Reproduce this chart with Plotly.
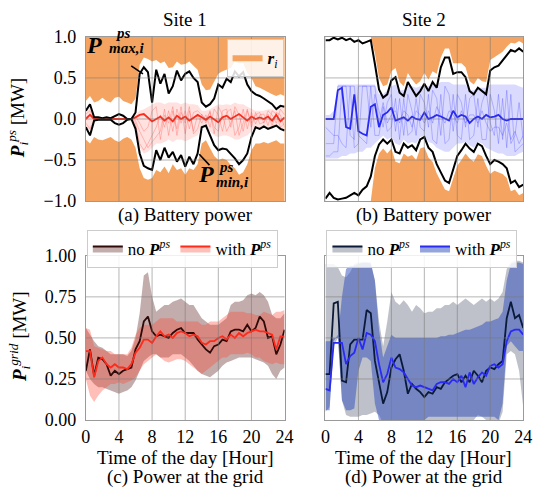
import plotly.graph_objects as go

# ---------------- data (half-hour resolution, 0..24 h) ----------------
HOURS = [i * 0.5 for i in range(49)]
X_TICKS = [0, 4, 8, 12, 16, 20, 24]
Y_TICKS_TOP = [-1.0, -0.5, 0.0, 0.5, 1.0]
Y_TICKS_BOT = [0.0, 0.25, 0.5, 0.75, 1.0]

# Site 1 battery power
S1_PMAX = [0.10,0.18,0.02,0.02,0.01,0.02, 0.01,0.04,0.06,0.04,0.00,0.00, 0.08,0.55,0.63,0.57,0.20,0.60,
           0.43,0.55,0.31,0.40,0.59,0.47, 0.55,0.58,0.50,0.45,0.20,0.15, 0.18,0.25,0.42,0.38,0.49,0.45,
           0.58,0.52,0.57,0.42,0.34,0.30, 0.28,0.25,0.21,0.18,0.12,0.16, 0.15]
S1_PMIN = [-0.10,-0.20,-0.02,-0.01,-0.01,-0.01, -0.01,-0.05,-0.07,-0.05,-0.01,0.00, -0.12,-0.42,-0.57,-0.60,-0.62,-0.38,
           -0.50,-0.35,-0.47,-0.40,-0.52,-0.44, -0.58,-0.46,-0.55,-0.42,-0.10,-0.08, -0.20,-0.32,-0.38,-0.36,-0.37,-0.42,
           -0.48,-0.55,-0.50,-0.42,-0.22,-0.10, -0.12,-0.09,-0.12,-0.10,-0.08,-0.12, -0.14]
S1_R_HI = [0.22,0.28,0.20,0.22,0.26,0.22, 0.20,0.26,0.27,0.22,0.20,0.18, 0.25,0.66,0.75,0.73,0.70,0.72,
           0.68,0.70,0.62,0.63,0.70,0.66, 0.67,0.70,0.65,0.60,0.42,0.35, 0.36,0.45,0.55,0.58,0.60,0.62,
           0.70,0.68,0.68,0.56,0.50,0.40, 0.38,0.35,0.33,0.30,0.28,0.30, 0.28]
S1_R_LO = [-0.25,-0.30,-0.22,-0.25,-0.26,-0.24, -0.22,-0.26,-0.28,-0.24,-0.22,-0.25, -0.35,-0.60,-0.72,-0.74,-0.72,-0.62,
           -0.65,-0.58,-0.66,-0.55,-0.62,-0.60, -0.68,-0.60,-0.62,-0.55,-0.30,-0.26, -0.35,-0.45,-0.50,-0.48,-0.50,-0.56,
           -0.60,-0.68,-0.65,-0.55,-0.38,-0.30, -0.30,-0.28,-0.30,-0.28,-0.26,-0.30, -0.30]
S1_CLOUD_HI = [0.10,0.15,0.02,0.01,0.01,0.01, 0.01,0.01,0.01,0.01,0.01,0.01, 0.05,0.10,0.12,0.15,0.18,0.20,
               0.20,0.18,0.20,0.20,0.20,0.18, 0.20,0.18,0.18,0.17,0.10,0.10, 0.12,0.15,0.18,0.17,0.18,0.17,
               0.20,0.18,0.18,0.15,0.12,0.10, 0.10,0.10,0.12,0.12,0.10,0.15, 0.14]
S1_CLOUD_LO = [-0.10,-0.15,-0.02,-0.01,-0.01,-0.01, -0.01,-0.01,-0.01,-0.01,-0.01,-0.01, -0.10,-0.35,-0.42,-0.40,-0.35,-0.30,
               -0.30,-0.28,-0.25,-0.28,-0.25,-0.25, -0.27,-0.25,-0.22,-0.20,-0.10,-0.08, -0.15,-0.20,-0.22,-0.20,-0.20,-0.22,
               -0.25,-0.25,-0.22,-0.20,-0.15,-0.10, -0.10,-0.08,-0.10,-0.10,-0.08,-0.12, -0.12]
S1_MEAN = [0.00,0.05,0.00,0.00,0.00,0.00, 0.00,0.00,0.00,0.00,0.00,0.00, 0.02,0.05,0.06,0.02,-0.03,0.00,
           0.03,-0.02,0.02,-0.03,0.04,0.00, 0.03,-0.02,0.02,0.05,0.02,-0.01, 0.03,0.00,-0.04,0.02,0.04,0.00,
           0.03,0.06,0.02,-0.02,0.03,0.00, 0.02,0.00,0.03,-0.02,0.05,-0.03, 0.02]
S1_SCEN_A = [0.06,0.10,0.00,0.00,0.00,0.00, 0.00,0.00,0.00,0.00,0.00,0.00, -0.05,-0.30,-0.38,-0.30,-0.20,-0.10,
             0.05,-0.10,0.10,-0.15,0.12,-0.05, 0.10,-0.12,0.08,0.10,0.05,0.00, 0.08,-0.10,-0.15,0.10,0.12,-0.10,
             0.15,0.05,-0.15,0.10,-0.05,0.05, 0.08,-0.05,0.10,0.05,-0.05,0.12, 0.05]
S1_SCEN_B = [-0.05,-0.12,0.00,0.00,0.00,0.00, 0.00,0.00,0.00,0.00,0.00,0.00, -0.02,-0.15,-0.25,-0.35,-0.28,-0.22,
             -0.15,0.12,-0.20,0.10,-0.12,0.15, -0.18,0.10,-0.15,0.05,-0.05,0.05, -0.10,0.12,0.05,-0.15,0.08,0.12,
             -0.20,-0.10,0.12,-0.12,0.08,-0.06, 0.05,0.06,-0.08,0.10,0.06,-0.10, -0.05]
S1_SCEN_C = [0.02,0.05,0.00,0.00,0.00,0.00, 0.00,0.00,0.00,0.00,0.00,0.00, 0.03,-0.05,-0.15,-0.10,0.10,0.15,
             -0.25,0.05,-0.05,0.15,-0.20,0.08, -0.05,0.15,-0.18,-0.12,0.06,-0.05, 0.10,-0.18,0.15,0.05,-0.15,-0.05,
             0.10,-0.20,-0.05,0.12,-0.10,0.08, -0.06,-0.04,0.06,-0.08,0.08,0.05, -0.10]

# Site 2 battery power
S2_PMAX = [0.96,0.96,0.99,0.97,0.99,0.96, 0.98,0.94,0.96,0.92,0.94,0.96, 0.67,0.36,0.26,0.30,0.47,0.51,
           0.32,0.28,0.45,0.36,0.28,0.34, 0.43,0.34,0.45,0.38,0.63,0.75, 0.75,0.55,0.57,0.57,0.51,0.34,
           0.30,0.38,0.34,0.30,0.59,0.63, 0.65,0.71,0.77,0.84,0.82,0.86, 0.82]
S2_PMIN = [-0.97,-0.90,-0.96,-0.98,-0.97,-0.96, -0.93,-0.90,-0.93,-0.86,-0.82,-0.70, -0.45,-0.31,-0.25,-0.30,-0.25,-0.40,
           -0.42,-0.30,-0.35,-0.32,-0.38,-0.25, -0.22,-0.35,-0.40,-0.55,-0.65,-0.75, -0.78,-0.60,-0.45,-0.38,-0.30,-0.36,
           -0.40,-0.30,-0.33,-0.45,-0.55,-0.50, -0.52,-0.55,-0.60,-0.78,-0.75,-0.83, -0.80]
S2_R_HI = [1.0,1.0,1.0,1.0,1.0,1.0, 1.0,1.0,1.0,1.0,1.0,1.0, 0.80,0.50,0.40,0.42,0.58,0.62,
           0.45,0.40,0.56,0.48,0.42,0.46, 0.56,0.48,0.58,0.55,0.75,0.86, 0.86,0.68,0.68,0.68,0.63,0.46,
           0.42,0.50,0.46,0.45,0.72,0.75, 0.78,0.82,0.88,0.93,0.92,0.95, 0.92]
S2_R_LO = [-1.0,-1.0,-1.0,-1.0,-1.0,-1.0, -1.0,-1.0,-1.0,-1.0,-1.0,-1.0, -0.60,-0.42,-0.36,-0.42,-0.36,-0.52,
           -0.54,-0.42,-0.46,-0.44,-0.50,-0.36, -0.34,-0.47,-0.52,-0.66,-0.76,-0.86, -0.88,-0.72,-0.57,-0.50,-0.42,-0.48,
           -0.52,-0.43,-0.45,-0.57,-0.67,-0.63, -0.65,-0.67,-0.72,-0.88,-0.86,-0.93, -0.90]
S2_CLOUD_HI = [0.05,0.05,0.10,0.42,0.42,0.42, 0.42,0.42,0.42,0.42,0.42,0.42, 0.42,0.30,0.30,0.35,0.40,0.42,
               0.35,0.35,0.40,0.40,0.38,0.40, 0.40,0.40,0.42,0.42,0.45,0.45, 0.45,0.42,0.42,0.42,0.42,0.35,
               0.35,0.38,0.38,0.38,0.42,0.42, 0.42,0.42,0.42,0.42,0.42,0.40, 0.38]
S2_CLOUD_LO = [-0.48,-0.48,-0.48,-0.48,-0.45,-0.45, -0.42,-0.42,-0.40,-0.40,-0.35,-0.35, -0.30,-0.25,-0.20,-0.25,-0.22,-0.30,
               -0.32,-0.25,-0.30,-0.28,-0.30,-0.22, -0.20,-0.28,-0.30,-0.35,-0.38,-0.40, -0.40,-0.35,-0.30,-0.30,-0.28,-0.32,
               -0.35,-0.28,-0.30,-0.35,-0.38,-0.40, -0.42,-0.42,-0.45,-0.45,-0.45,-0.42, -0.40]
S2_MEAN = [0.00,0.00,0.00,0.35,0.38,-0.10, -0.12,0.30,-0.15,-0.18,-0.20,0.15, 0.18,-0.10,0.05,0.08,0.14,-0.02,
           0.00,0.02,-0.02,0.03,0.00,-0.01, 0.08,0.00,0.02,0.05,0.03,0.00, -0.02,0.10,0.02,0.05,0.03,-0.05,
           0.00,0.03,0.00,0.05,0.02,0.03, 0.05,0.00,-0.02,0.00,0.00,0.00, 0.00]
S2_SCEN_A = [-0.30,-0.30,-0.30,0.40,0.40,0.40, -0.20,-0.25,0.40,0.40,0.40,-0.10, 0.30,0.10,-0.10,0.20,0.30,-0.15,
             0.25,-0.20,0.30,0.10,-0.20,0.30, 0.20,-0.10,0.35,0.25,-0.20,0.40, 0.30,-0.15,0.30,0.20,-0.10,0.25,
             0.30,-0.10,0.20,0.35,-0.05,-0.20, 0.30,-0.25,0.35,-0.30,-0.20,0.20, -0.25]
S2_SCEN_B = [-0.45,-0.45,-0.40,-0.40,0.40,0.40, 0.40,-0.35,-0.30,0.40,0.40,0.40, -0.20,-0.20,0.15,-0.15,-0.10,0.25,
             -0.25,0.25,-0.20,-0.15,0.25,-0.10, -0.15,0.30,-0.25,-0.30,0.30,-0.30, -0.25,0.30,-0.20,-0.25,0.30,-0.25,
             -0.20,0.25,-0.25,-0.25,0.30,0.10, -0.30,0.25,-0.35,0.30,-0.40,-0.35, -0.30]
S2_SCEN_C = [-0.10,-0.15,-0.20,-0.20,-0.30,-0.35, 0.40,0.40,-0.20,-0.25,-0.30,0.40, 0.40,-0.05,0.20,-0.05,0.05,0.10,
             -0.05,0.10,0.05,-0.10,0.10,0.05, -0.05,0.10,-0.05,0.15,0.05,-0.05, 0.10,0.05,-0.05,0.10,-0.05,0.05,
             0.05,-0.05,0.10,-0.05,-0.15,-0.10, -0.10,-0.20,-0.05,-0.25,-0.15,-0.30, -0.20]

# Site 1 grid power
G1_NO = [0.30,0.43,0.27,0.38,0.37,0.34, 0.27,0.30,0.28,0.30,0.31,0.32, 0.43,0.48,0.60,0.63,0.54,0.51,
         0.52,0.51,0.50,0.53,0.55,0.56, 0.53,0.53,0.53,0.49,0.46,0.43, 0.41,0.45,0.46,0.49,0.48,0.54,
         0.55,0.55,0.54,0.58,0.54,0.56, 0.63,0.60,0.50,0.51,0.40,0.46, 0.55]
G1_WITH = [0.42,0.42,0.26,0.36,0.38,0.34, 0.32,0.34,0.32,0.32,0.31,0.34, 0.41,0.44,0.49,0.49,0.47,0.51,
           0.54,0.51,0.52,0.50,0.53,0.54, 0.53,0.51,0.52,0.51,0.47,0.46, 0.48,0.48,0.50,0.51,0.49,0.52,
           0.50,0.53,0.51,0.53,0.54,0.55, 0.54,0.54,0.53,0.52,0.43,0.51, 0.51]
G1_NO_HI = [0.56,0.52,0.48,0.45,0.44,0.42, 0.40,0.40,0.40,0.40,0.39,0.42, 0.50,0.65,0.88,0.90,0.75,0.66,
            0.68,0.70,0.70,0.72,0.73,0.74, 0.72,0.70,0.70,0.66,0.62,0.60, 0.58,0.58,0.58,0.60,0.62,0.70,
            0.72,0.72,0.73,0.76,0.77,0.76, 0.78,0.76,0.72,0.64,0.62,0.62, 0.65]
G1_NO_LO = [0.30,0.25,0.22,0.20,0.20,0.19, 0.18,0.17,0.16,0.17,0.18,0.20, 0.24,0.30,0.36,0.38,0.40,0.40,
            0.38,0.38,0.38,0.40,0.40,0.40, 0.38,0.36,0.33,0.30,0.28,0.27, 0.26,0.28,0.30,0.33,0.35,0.36,
            0.37,0.38,0.38,0.38,0.38,0.37, 0.36,0.35,0.33,0.28,0.25,0.30, 0.32]
G1_WITH_HI = [0.56,0.55,0.45,0.44,0.43,0.42, 0.42,0.40,0.40,0.40,0.40,0.44, 0.52,0.56,0.58,0.58,0.58,0.60,
              0.62,0.62,0.62,0.62,0.60,0.60, 0.60,0.60,0.60,0.60,0.58,0.58, 0.60,0.60,0.60,0.62,0.64,0.66,
              0.66,0.66,0.66,0.65,0.65,0.64, 0.64,0.66,0.65,0.64,0.66,0.66, 0.67]
G1_WITH_LO = [0.25,0.15,0.11,0.15,0.18,0.20, 0.22,0.22,0.23,0.22,0.23,0.24, 0.26,0.30,0.34,0.36,0.38,0.40,
              0.38,0.36,0.35,0.36,0.37,0.37, 0.36,0.34,0.32,0.30,0.28,0.30, 0.32,0.34,0.36,0.38,0.38,0.40,
              0.40,0.40,0.40,0.41,0.40,0.38, 0.38,0.36,0.35,0.34,0.35,0.34, 0.34]

# Site 2 grid power
G2_NO = [0.28,0.28,0.71,0.72,0.24,0.23, 0.46,0.49,0.49,0.49,0.67,0.65, 0.36,0.23,0.10,0.17,0.32,0.37,
         0.40,0.30,0.16,0.22,0.19,0.17, 0.14,0.17,0.16,0.20,0.19,0.23, 0.25,0.27,0.28,0.23,0.27,0.23,
         0.30,0.27,0.23,0.30,0.32,0.31, 0.34,0.36,0.62,0.72,0.62,0.64, 0.56]
G2_WITH = [0.19,0.18,0.47,0.47,0.47,0.34, 0.39,0.41,0.50,0.43,0.53,0.52, 0.48,0.34,0.23,0.28,0.38,0.32,
           0.31,0.29,0.25,0.21,0.20,0.21, 0.20,0.19,0.18,0.22,0.23,0.23, 0.22,0.25,0.23,0.27,0.20,0.29,
           0.22,0.26,0.29,0.27,0.33,0.34, 0.32,0.34,0.48,0.54,0.55,0.55, 0.52]
G2_NO_HI = [0.95,0.95,0.95,0.93,0.88,0.87, 0.90,0.95,0.96,0.96,0.96,0.95, 0.85,0.60,0.45,0.60,0.78,0.72,
            0.70,0.73,0.70,0.66,0.70,0.68, 0.65,0.66,0.66,0.68,0.68,0.70, 0.70,0.72,0.70,0.72,0.74,0.72,
            0.70,0.72,0.74,0.72,0.74,0.72, 0.74,0.78,0.92,0.96,0.97,0.97, 0.96]
G2_NO_LO = [0.05,0.08,0.45,0.50,0.12,0.03, 0.02,0.02,0.02,0.03,0.03,0.04, 0.05,0.03,-0.02,-0.02,-0.02,-0.02,
            -0.02,-0.02,-0.02,-0.02,-0.02,-0.02, -0.02,-0.02,-0.02,-0.02,-0.02,-0.02, -0.02,-0.02,-0.02,-0.02,-0.02,-0.02,
            0.00,0.03,0.02,0.00,-0.02,-0.02, -0.02,0.05,0.40,0.42,0.40,0.30, 0.08]
G2_WITH_HI = [0.48,0.48,0.50,0.50,0.75,0.92, 0.94,0.94,0.95,0.96,0.96,0.96, 0.85,0.55,0.38,0.45,0.52,0.50,
              0.50,0.50,0.50,0.50,0.50,0.50, 0.50,0.50,0.50,0.50,0.51,0.51, 0.52,0.52,0.53,0.54,0.55,0.55,
              0.56,0.57,0.58,0.60,0.60,0.61, 0.62,0.66,0.85,0.95,0.96,0.96, 0.95]
G2_WITH_LO = [0.06,0.06,0.48,0.52,0.12,0.06, 0.06,0.07,0.30,0.38,0.38,0.36, 0.10,0.00,-0.05,-0.05,-0.05,-0.05,
              -0.05,-0.05,-0.05,-0.05,-0.05,-0.05, 0.00,0.02,0.02,0.02,0.02,0.02, 0.02,0.02,0.02,0.02,0.02,0.02,
              0.02,0.02,0.02,0.02,0.02,0.02, 0.00,0.10,0.45,0.48,0.45,0.42, 0.42]

# ---------------- styling ----------------
FONT = "Liberation Serif"
ORANGE = "#F4A460"
W, H = 540, 503
XDOM = {1: [83 / W, 287 / W], 2: [329 / W, 532 / W], 3: [83 / W, 287 / W], 4: [329 / W, 532 / W]}
YDOM = {1: [1 - 199 / H, 1 - 28 / H], 2: [1 - 199 / H, 1 - 28 / H], 3: [1 - 427 / H, 1 - 256 / H], 4: [1 - 427 / H, 1 - 256 / H]}

fig = go.Figure()


def ax(k):
    return ("x" if k == 1 else f"x{k}"), ("y" if k == 1 else f"y{k}")


def add(k, **kw):
    xa, ya = ax(k)
    kw.setdefault("showlegend", False)
    kw.setdefault("hoverinfo", "skip")
    fig.add_trace(go.Scatter(x=HOURS, xaxis=xa, yaxis=ya, **kw))


def band(k, lo, hi, color):
    add(k, y=lo, mode="lines", line=dict(width=0, color=color))
    add(k, y=hi, mode="lines", line=dict(width=0, color=color), fill="tonexty", fillcolor=color)


# top panels
for k, rlo, rhi, clo, chi, scen, mean, pmax, pmin, lc, cloudc, scenc in [
    (1, S1_R_LO, S1_R_HI, S1_CLOUD_LO, S1_CLOUD_HI, [S1_SCEN_A, S1_SCEN_B, S1_SCEN_C], S1_MEAN, S1_PMAX, S1_PMIN,
     "#FF2A1A", "rgba(255,90,80,0.18)", "rgba(255,60,50,0.35)"),
    (2, S2_R_LO, S2_R_HI, S2_CLOUD_LO, S2_CLOUD_HI, [S2_SCEN_A, S2_SCEN_B, S2_SCEN_C], S2_MEAN, S2_PMAX, S2_PMIN,
     "#2A2AF5", "rgba(70,70,255,0.2)", "rgba(50,50,255,0.35)"),
]:
    band(k, rlo, rhi, "white")
    band(k, clo, chi, cloudc)
    for s in scen:
        add(k, y=s, mode="lines", line=dict(width=0.8, color=scenc))
    add(k, y=mean, mode="lines", line=dict(width=1.8, color=lc))
    add(k, y=pmax, mode="lines", line=dict(width=2, color="black"))
    add(k, y=pmin, mode="lines", line=dict(width=2, color="black"))

# bottom panels
NO1_FILL, WITH1_FILL = "rgba(120,70,70,0.45)", "rgba(255,70,50,0.35)"
NO2_FILL, WITH2_FILL = "rgba(110,118,135,0.45)", "rgba(50,80,190,0.52)"
band(3, G1_NO_LO, G1_NO_HI, NO1_FILL)
band(3, G1_WITH_LO, G1_WITH_HI, WITH1_FILL)
add(3, y=G1_NO, mode="lines", line=dict(width=1.8, color="#2E0A08"))
add(3, y=G1_WITH, mode="lines", line=dict(width=1.8, color="#FF2A1A"))
band(4, G2_NO_LO, G2_NO_HI, NO2_FILL)
band(4, G2_WITH_LO, G2_WITH_HI, WITH2_FILL)
add(4, y=G2_NO, mode="lines", line=dict(width=1.8, color="#0B1A38"))
add(4, y=G2_WITH, mode="lines", line=dict(width=1.8, color="#2A2AF5"))

PPS = "<b><i>P</i></b><sup><i>ps</i></sup>"


def legend_item(name, fillc, linec, legend, lw=2):
    fig.add_trace(go.Scatter(x=[None], y=[None], mode="lines", fill="toself", fillcolor=fillc,
                             line=dict(color=linec, width=lw), name=name, legend=legend, showlegend=True))


legend_item("<b><i>r</i></b><sub><i>i</i></sub>", ORANGE, ORANGE, "legend", lw=0)
legend_item("no " + PPS, NO1_FILL, "#2E0A08", "legend2")
legend_item("with " + PPS, WITH1_FILL, "#FF2A1A", "legend2")
legend_item("no " + PPS, NO2_FILL, "#0B1A38", "legend3")
legend_item("with " + PPS, WITH2_FILL, "#2A2AF5", "legend3")

# axes
layout_axes = {}
for k in (1, 2, 3, 4):
    xa, ya = ax(k)
    xname = "xaxis" if k == 1 else f"xaxis{k}"
    yname = "yaxis" if k == 1 else f"yaxis{k}"
    top = k in (1, 2)
    layout_axes[xname] = dict(domain=XDOM[k], anchor=ya, range=[0, 24], tickvals=X_TICKS,
                              showticklabels=not top, showgrid=False, zeroline=False,
                              showline=True, mirror=True, linecolor="#9a9a9a", linewidth=1,
                              ticks="", tickfont=dict(size=18, family=FONT, color="black"))
    layout_axes[yname] = dict(domain=YDOM[k], anchor=xa,
                              range=[-1, 1] if top else [0, 1],
                              tickvals=Y_TICKS_TOP if top else Y_TICKS_BOT,
                              tickformat=".1f" if top else ".2f",
                              showticklabels=(k in (1, 3)), showgrid=False, zeroline=False,
                              showline=True, mirror=True, linecolor="#9a9a9a", linewidth=1,
                              ticks="", ticklabelstandoff=5,
                              tickfont=dict(size=18, family=FONT, color="black"))

shapes = []
# orange r_i background of the battery-power panels
for k in (1, 2):
    xa, ya = ax(k)
    shapes.append(dict(type="rect", xref=f"{xa} domain", yref=f"{ya} domain", x0=0, x1=1, y0=0, y1=1,
                       fillcolor=ORANGE, line=dict(width=0), layer="below"))
# grid lines drawn above the fills
GRID = dict(color="rgba(120,120,120,0.55)", width=1)
for k in (1, 2, 3, 4):
    xa, ya = ax(k)
    for xv in X_TICKS[1:-1]:
        shapes.append(dict(type="line", xref=xa, yref=f"{ya} domain", x0=xv, x1=xv, y0=0, y1=1,
                           line=GRID, layer="above"))
    for yv in (Y_TICKS_TOP if k in (1, 2) else Y_TICKS_BOT)[1:-1]:
        shapes.append(dict(type="line", xref=f"{xa} domain", yref=ya, x0=0, x1=1, y0=yv, y1=yv,
                           line=GRID, layer="above"))

ann = []


def text(x, y, s, size=19, xref="paper", yref="paper", angle=0, xanchor="center"):
    ann.append(dict(x=x, y=y, xref=xref, yref=yref, text=s, showarrow=False, textangle=angle,
                    xanchor=xanchor, yanchor="middle", font=dict(family=FONT, size=size, color="black")))


text(185 / W, 1 - 10 / H, "Site 1")
text(430 / W, 1 - 10 / H, "Site 2")
text(185 / W, 1 - 213 / H, "(a) Battery power")
text(430 / W, 1 - 213 / H, "(b) Battery power")
text(185 / W, 1 - 466 / H, "Time of the day [Hour]")
text(430 / W, 1 - 466 / H, "Time of the day [Hour]")
text(185 / W, 1 - 486 / H, "(c) Power at the grid")
text(430 / W, 1 - 486 / H, "(d) Power at the grid")
text(13 / W, 1 - 113 / H, "<b><i>P</i></b><sub><i>i</i></sub><sup><i>ps</i></sup> [MW]", size=19, angle=-90)
text(15 / W, 1 - 340 / H, "<b><i>P</i></b><sub><i>i</i></sub><sup><i>grid</i></sup> [MW]", size=19, angle=-90)

# Pmax / Pmin labels
text(1.0, 0.9, "<b><i>P</i></b>", size=24, xref="x", yref="y")
text(121.5 / W, 1 - 23.5 / H, "<b><i>ps</i></b>", size=15)
text(4.95, 0.86, "<b><i>max,i</i></b>", size=15, xref="x", yref="y")
text(14.5, -0.67, "<b><i>P</i></b>", size=24, xref="x", yref="y")
text(16.9, -0.58, "<b><i>ps</i></b>", size=15, xref="x", yref="y")
text(17.75, -0.77, "<b><i>min,i</i></b>", size=15, xref="x", yref="y")
for (hx, hy, tx, ty) in [(6.9, 0.55, 5.3, 0.66), (13.7, -0.43, 15.1, -0.58)]:
    ann.append(dict(x=hx, y=hy, ax=tx, ay=ty, xref="x", yref="y", axref="x", ayref="y", text="",
                    showarrow=True, arrowhead=0, arrowwidth=1.6, arrowcolor="black"))

LEG = dict(bgcolor="rgba(255,255,255,0.85)", bordercolor="#cccccc", borderwidth=1,
           orientation="h", font=dict(family=FONT, size=17, color="black"), itemwidth=30,
           yanchor="top", tracegroupgap=0)

fig.update_layout(
    width=W, height=H, margin=dict(l=0, r=0, t=0, b=0),
    paper_bgcolor="white", plot_bgcolor="white",
    font=dict(family=FONT, size=18, color="black"),
    shapes=shapes, annotations=ann,
    legend=dict(LEG, x=286 / W, y=1 - 30 / H, xanchor="right"),
    legend2=dict(LEG, x=84 / W, y=1 - 229 / H, xanchor="left"),
    legend3=dict(LEG, x=330 / W, y=1 - 229 / H, xanchor="left"),
    **layout_axes,
)
fig.write_html("out.html")
